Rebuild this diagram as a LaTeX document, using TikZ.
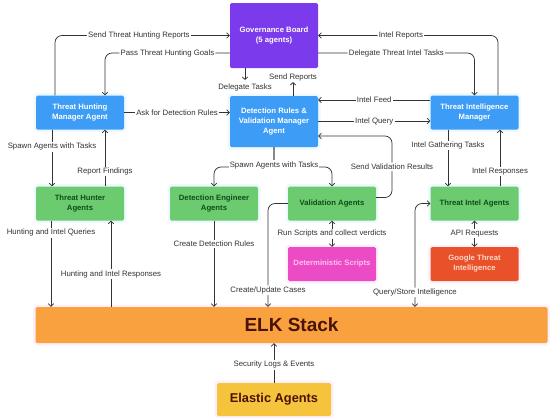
\documentclass[tikz,border=0pt]{standalone}
\usepackage{fontspec}
\setmainfont{Liberation Sans}
\usepackage{tikz}
\usetikzlibrary{arrows.meta,calc}
\definecolor{govpurple}{HTML}{7C3AED}
\definecolor{mgrblue}{HTML}{3D9CF5}
\definecolor{agentgreen}{HTML}{6BCB6E}
\definecolor{agenttext}{HTML}{0F4D1C}
\definecolor{scriptpink}{HTML}{EC4BC6}
\definecolor{scripttext}{HTML}{FFC2EE}
\definecolor{googlered}{HTML}{E9512B}
\definecolor{googletext}{HTML}{FFD8C8}
\definecolor{elkorange}{HTML}{F9A03F}
\definecolor{elktext}{HTML}{4A1306}
\definecolor{elasticyellow}{HTML}{F5C43C}
\definecolor{edgegray}{HTML}{333333}

\begin{document}
\begin{tikzpicture}[
  x=1pt,y=-1pt,>={Straight Barb[length=2.6pt,width=5.5pt]},
  bx/.style={rounded corners=1.5pt,minimum width=88pt,minimum height=34pt,align=center,
    inner sep=2pt,font=\fontsize{7.7}{10}\selectfont\bfseries},
  mgr/.style={bx,fill=mgrblue,text=white,preaction={draw=cyan!7,line width=5pt}},
  agt/.style={bx,fill=agentgreen,text=agenttext,preaction={draw=cyan!7,line width=5pt}},
  ar/.style={->,draw=edgegray,line width=0.75pt},
  lbl/.style={fill=white,text=edgegray,inner sep=1.2pt,font=\fontsize{7.8}{9}\selectfont}
]
\useasboundingbox (0,0) rectangle (550,418);
% boxes
\node[bx,fill=govpurple,text=white,minimum height=65pt] (gov) at (274,35.5) {Governance Board\\(5 agents)};
\node[mgr] (thm) at (80,112.5) {Threat Hunting\\Manager Agent};
\node[mgr,minimum height=51pt] (drm) at (274,121.5) {Detection Rules \&\\Validation Manager\\Agent};
\node[mgr] (tim) at (474.5,112.5) {Threat Intelligence\\Manager};
\node[agt] (tha) at (80,203.5) {Threat Hunter\\Agents};
\node[agt] (dea) at (214,203.5) {Detection Engineer\\Agents};
\node[agt] (vla) at (332,203.5) {Validation Agents};
\node[agt] (tia) at (474.5,203.5) {Threat Intel Agents};
\node[bx,fill=scriptpink,text=scripttext,preaction={draw=magenta!6,line width=5pt}] (dsc) at (332,264) {Deterministic Scripts};
\node[bx,fill=googlered,text=googletext,preaction={draw=magenta!6,line width=5pt}] (gti) at (474.5,264) {Google Threat\\Intelligence};
\node[bx,fill=elkorange,text=elktext,minimum width=512pt,minimum height=36pt,
  preaction={draw=magenta!6,line width=5pt},font=\fontsize{19}{21}\selectfont\bfseries] (elk) at (291.5,325) {ELK Stack};
\node[bx,fill=elasticyellow,text=elktext,minimum width=114pt,minimum height=33pt,
  preaction={draw=magenta!6,line width=5pt},font=\fontsize{12.8}{14}\selectfont\bfseries] (ela) at (274,399.5) {Elastic Agents};
\node[lbl] (dlt) at (245,87) {Delegate Tasks};
\node[lbl] (snr) at (293,77) {Send Reports};

% governance links
\draw[ar,rounded corners=7pt] ([xshift=-25pt]thm.north) |- (gov.west) node[lbl,pos=0.74] {Send Threat Hunting Reports};
\draw[ar,rounded corners=7pt] (gov.west |- 0,53) -| ([xshift=25pt]thm.north) node[lbl,pos=0.25] {Pass Threat Hunting Goals};
\draw[ar,rounded corners=7pt] ([xshift=23.5pt]tim.north) |- (gov.east) node[lbl,pos=0.77] {Intel Reports};
\draw[ar,rounded corners=7pt] (gov.east |- 0,53) -| (tim.north) node[lbl,pos=0.25] {Delegate Threat Intel Tasks};
\draw[ar] (gov.south -| 245,0) -- ([yshift=2pt]dlt.north);
\draw[ar] (drm.north -| 293,0) -- (snr.south);

% manager row
\draw[ar] (thm.east) -- (thm.east -| drm.west) node[lbl,midway] {Ask for Detection Rules};
\draw[ar] (tim.west |- 0,100) -- (drm.east |- 0,100) node[lbl,midway] {Intel Feed};
\draw[ar] (drm.east |- 0,121) -- (tim.west |- 0,121) node[lbl,midway] {Intel Query};
\draw[ar,rounded corners=7pt] ([yshift=6pt]vla.east) -| (392,136) node[lbl,pos=0.75] {Send Validation Results} -- (drm.east |- 0,136);

% spawn detection agents
\draw[ar,rounded corners=7pt] (drm.south) -- (274,167) -| (vla.north);
\draw[ar,rounded corners=7pt] (drm.south) -- (274,167) -| (dea.north);
\node[lbl] (spw) at (274,165) {Spawn Agents with Tasks};

% hunting column
\draw[ar] ([xshift=-28pt]thm.south) -- ([xshift=-28pt]tha.north) node[lbl,pos=0.3] {Spawn Agents with Tasks};
\draw[ar] ([xshift=25pt]tha.north) -- ([xshift=25pt]thm.south) node[lbl,pos=0.26] {Report Findings};
\draw[ar] ([xshift=-29pt]tha.south) -- (51,0 |- elk.north) node[lbl,pos=0.14] {Hunting and Intel Queries};
\draw[ar] (111,0 |- elk.north) -- ([xshift=31pt]tha.south) node[lbl,pos=0.38] {Hunting and Intel Responses};

% detection column
\draw[ar] (dea.south) -- (dea.south |- elk.north) node[lbl,pos=0.27] {Create Detection Rules};
\draw[ar,rounded corners=7pt] (vla.west) -| (268,0 |- elk.north) node[lbl,pos=0.92] {Create/Update Cases};
\draw[ar,<->] (vla.south) -- (dsc.north) node[lbl,midway] {Run Scripts and collect verdicts};

% intel column
\draw[ar] ([xshift=-26.5pt]tim.south) -- ([xshift=-26.5pt]tia.north) node[lbl,pos=0.28] {Intel Gathering Tasks};
\draw[ar] ([xshift=25.5pt]tia.north) -- ([xshift=25.5pt]tim.south) node[lbl,pos=0.26] {Intel Responses};
\draw[ar,<->,rounded corners=7pt] (415,0 |- elk.north) |- (tia.west) node[lbl,pos=0.07] {Query/Store Intelligence};
\draw[ar,<->] (tia.south) -- (gti.north) node[lbl,midway] {API Requests};

% logs
\draw[ar] (ela.north) -- (ela.north |- elk.south) node[lbl,pos=0.45] {Security Logs \& Events};
\end{tikzpicture}
\end{document}
